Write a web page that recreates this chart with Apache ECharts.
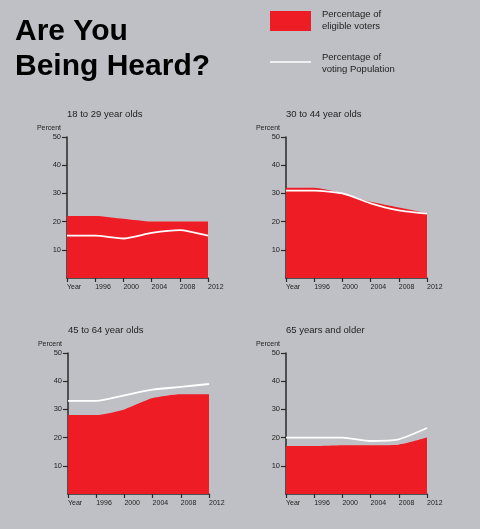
<!DOCTYPE html>
<html>
<head>
<meta charset="utf-8">
<script src="https://cdn.jsdelivr.net/npm/echarts@6/dist/echarts.min.js"></script>
<style>
  html, body { margin: 0; padding: 0; background: #bfc0c5; }
  #chart { width: 480px; height: 529px; }
</style>
</head>
<body>
<div id="chart"></div>
<script>
// x labels: first slot is the axis caption ("Year"), the rest are election years
const years = ['Year', '1996', '2000', '2004', '2008', '2012'];
const panelTitles = ['18 to 29 year olds', '30 to 44 year olds', '45 to 64 year olds', '65 years and older'];

// percentage of eligible voters (red area)
const eligible18 = [22, 22, 21, 20, 20, 20];
const eligible30 = [32, 32, 30, 27, 25, 23];
const eligible45 = [28, 28, 30, 34, 35.4, 35.4];
const eligible65 = [17, 17, 17.3, 17.3, 17.5, 20];

// percentage of voting population (white line)
const voting18 = [15, 15, 14, 16, 17, 15];
const voting30 = [31, 31, 30, 26.5, 24, 22.8];
const voting45 = [33, 33, 35, 37, 38, 39];
const voting65 = [20, 20, 20, 18.8, 19.4, 23.4];

const eligible = [eligible18, eligible30, eligible45, eligible65];
const voting = [voting18, voting30, voting45, voting65];

const RED = '#ee1c25';
const FONT = "'Liberation Sans', Arial, Helvetica, sans-serif";
const AXIS = '#2a2a2a';

// grid boxes [left, top] for each panel; all 141 x 141
const boxes = [[67, 137], [286, 137], [68, 353], [286, 353]];

const chart = echarts.init(document.getElementById('chart'));

const grids = [], xAxes = [], yAxes = [], series = [], titles = [];

titles.push({
    text: 'Are You\nBeing Heard?',
    left: 10, top: 9,
    textStyle: { fontFamily: FONT, fontSize: 30, fontWeight: 'bold', color: '#000', lineHeight: 35 }
});

boxes.forEach((b, i) => {
    grids.push({ left: b[0], top: b[1], width: 141, height: 141 });
    titles.push({
        text: panelTitles[i],
        left: b[0] - 5, top: b[1] - 33,
        textStyle: { fontFamily: FONT, fontSize: 9.5, fontWeight: 'normal', color: '#222' }
    });
    xAxes.push({
        type: 'category', gridIndex: i, data: years, boundaryGap: false,
        axisLine: { lineStyle: { color: AXIS, width: 1.5 } },
        axisTick: { length: 4, lineStyle: { color: AXIS, width: 1.2 } },
        axisLabel: { align: 'left', margin: 6, fontFamily: FONT, fontSize: 7, color: '#222' },
        splitLine: { show: false }
    });
    yAxes.push({
        type: 'value', gridIndex: i, min: 0, max: 50, interval: 10,
        name: 'Percent', nameLocation: 'end', nameGap: 5,
        nameTextStyle: { fontFamily: FONT, fontSize: 7, color: '#222', align: 'right', padding: [0, 6, 0, 0] },
        axisLine: { show: true, lineStyle: { color: AXIS, width: 1.5 } },
        axisTick: { show: true, length: 5, lineStyle: { color: AXIS, width: 1.2 } },
        axisLabel: { showMinLabel: false, margin: 6, fontFamily: FONT, fontSize: 7.5, color: '#222' },
        splitLine: { show: false }
    });
    series.push({
        type: 'line', xAxisIndex: i, yAxisIndex: i, data: eligible[i],
        symbol: 'none', smooth: 0.2,
        lineStyle: { width: 0 }, areaStyle: { color: RED, opacity: 1 },
        z: 1
    });
    series.push({
        type: 'line', xAxisIndex: i, yAxisIndex: i, data: voting[i],
        symbol: 'none', smooth: 0.2,
        lineStyle: { color: '#fff', width: 1.8 },
        z: 3
    });
});

chart.setOption({
    backgroundColor: '#bfc0c5',
    animation: false,
    title: titles,
    grid: grids,
    xAxis: xAxes,
    yAxis: yAxes,
    series: series,
    graphic: [
        { type: 'rect', shape: { x: 270, y: 11, width: 41, height: 20 }, style: { fill: RED } },
        { type: 'text', left: 322, top: 9, style: { text: 'Percentage of\neligible voters', font: '9.5px ' + FONT, fill: '#222', lineHeight: 11.5 } },
        { type: 'line', shape: { x1: 270, y1: 62, x2: 311, y2: 62 }, style: { stroke: '#fff', lineWidth: 1.5 } },
        { type: 'text', left: 322, top: 52, style: { text: 'Percentage of\nvoting Population', font: '9.5px ' + FONT, fill: '#222', lineHeight: 11.5 } }
    ]
});
</script>
</body>
</html>
